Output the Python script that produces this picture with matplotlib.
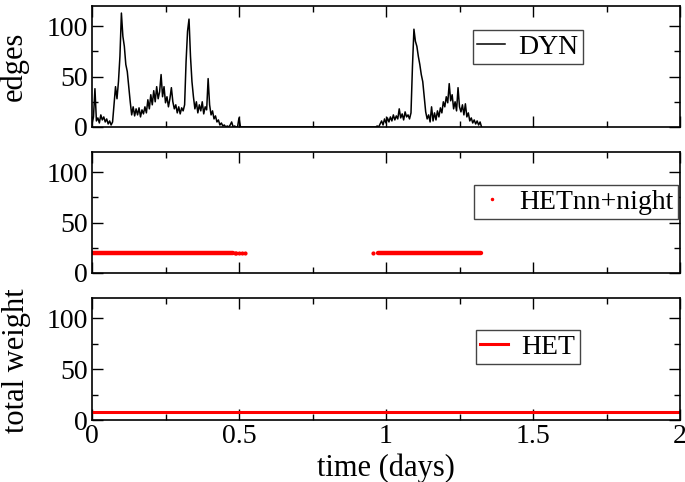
import numpy as np
import matplotlib
matplotlib.use("Agg")
import matplotlib.pyplot as plt
from matplotlib.ticker import MultipleLocator

plt.rcParams['font.family'] = ['Liberation Serif', 'DejaVu Serif']
plt.rcParams['font.size'] = 20

# DYN: number of edges over time, sampled every 0.005 days in two active bursts
dyn_step = 0.005
dyn_start1 = 0.0
dyn_edges1 = [3, 10, 38, 6, 9, 4, 12, 7, 10, 5, 8, 3, 6, 2, 5, 22, 40, 28, 45, 70,
              113, 90, 80, 62, 55, 40, 25, 12, 20, 11, 18, 12, 19, 10, 17, 13, 20, 14, 27, 18,
              32, 22, 36, 25, 40, 28, 35, 52, 30, 40, 24, 30, 20, 28, 39, 25, 18, 22, 14, 20,
              13, 19, 16, 22, 65, 95, 107, 70, 45, 30, 18, 25, 14, 22, 16, 25, 13, 20, 17, 48,
              22, 12, 16, 8, 11, 5, 7, 2, 4, 1, 2, 0, 1, 0, 2, 5, 0, 1, 0, 0,
              9, 0, 0, 0, 0]
dyn_start2 = 0.965
dyn_edges2 = [0, 1, 0, 3, 6, 2, 8, 4, 9, 5, 10, 6, 12, 7, 11, 8, 18, 9, 13, 7,
              15, 10, 12, 8, 14, 60, 97, 85, 80, 70, 62, 52, 45, 30, 15, 8, 12, 5, 20, 6,
              14, 7, 16, 10, 19, 14, 25, 20, 30, 24, 43, 26, 32, 18, 25, 16, 39, 20, 15, 22,
              12, 23, 10, 14, 6, 9, 4, 7, 3, 6, 2, 5, 0]

# HETnn+night: weight 20 while the network is active (day periods)
hetnn_level = 20
hetnn_periods = [(0.0, 0.48), (0.972, 1.322)]
hetnn_stray = [0.485, 0.49, 0.50, 0.51, 0.52, 0.957]

# HET: constant total weight
het_level = 8

t1 = dyn_start1 + dyn_step * np.arange(len(dyn_edges1))
t2 = dyn_start2 + dyn_step * np.arange(len(dyn_edges2))
dyn_t = np.concatenate([t1, t2])
dyn_y = np.concatenate([dyn_edges1, dyn_edges2])

fig = plt.figure(figsize=(6.85, 4.82), dpi=100)
left, width = 92 / 685, 588 / 685
ax1 = fig.add_axes([left, 355 / 482, width, 121 / 482])
ax2 = fig.add_axes([left, 209 / 482, width, 121 / 482])
ax3 = fig.add_axes([left, 62 / 482, width, 122 / 482])

ax1.plot(dyn_t, dyn_y, color='black', lw=1.1, label='DYN')

for a, b in hetnn_periods:
    ax2.plot([a, b], [hetnn_level, hetnn_level], color='red', lw=3.2,
             solid_capstyle='round')
ax2.plot(hetnn_stray, [hetnn_level] * len(hetnn_stray), ls='none', marker='.',
         ms=4, color='red')
ax2.plot([], [], ls='none', marker='.', ms=3, color='red', label='HETnn+night')

ax3.plot([0, 2], [het_level, het_level], color='red', lw=2.2, label='HET')

leg_pos = [(ax1, (0.741, 0.66)), (ax2, (0.823, 0.587)), (ax3, (0.741, 0.598))]
for ax, anchor in leg_pos:
    ax.set_xlim(0, 2)
    ax.set_ylim(0, 120)
    ax.xaxis.set_major_locator(MultipleLocator(0.5))
    ax.xaxis.set_minor_locator(MultipleLocator(0.25))
    ax.yaxis.set_major_locator(MultipleLocator(50))
    ax.yaxis.set_minor_locator(MultipleLocator(25))
    ax.tick_params(which='both', direction='in', top=True, right=True, width=1.0,
                   labelsize=20, pad=3)
    ax.tick_params(which='major', length=8)
    ax.tick_params(which='minor', length=4.5)
    for s in ax.spines.values():
        s.set_linewidth(1.2)
    leg = ax.legend(loc='center', bbox_to_anchor=anchor, fancybox=False,
                    edgecolor='#444444', framealpha=1, fontsize=20,
                    handlelength=1.0, handletextpad=0.5, borderpad=0.15,
                    borderaxespad=0, markerscale=1)
    leg.get_frame().set_linewidth(1.0)

ax1.tick_params(labelbottom=False)
ax2.tick_params(labelbottom=False)
ax3.xaxis.set_major_formatter(plt.FuncFormatter(lambda v, p: f"{v:g}"))

ax1.set_ylabel('edges', fontsize=22)
ax1.yaxis.set_label_coords(-0.107, 0.5)
ax3.set_ylabel('total weight', fontsize=22)
ax3.yaxis.set_label_coords(-0.104, 0.49)
ax3.set_xlabel('time (days)', fontsize=22, labelpad=3)

fig.savefig('out.png', dpi=100)
